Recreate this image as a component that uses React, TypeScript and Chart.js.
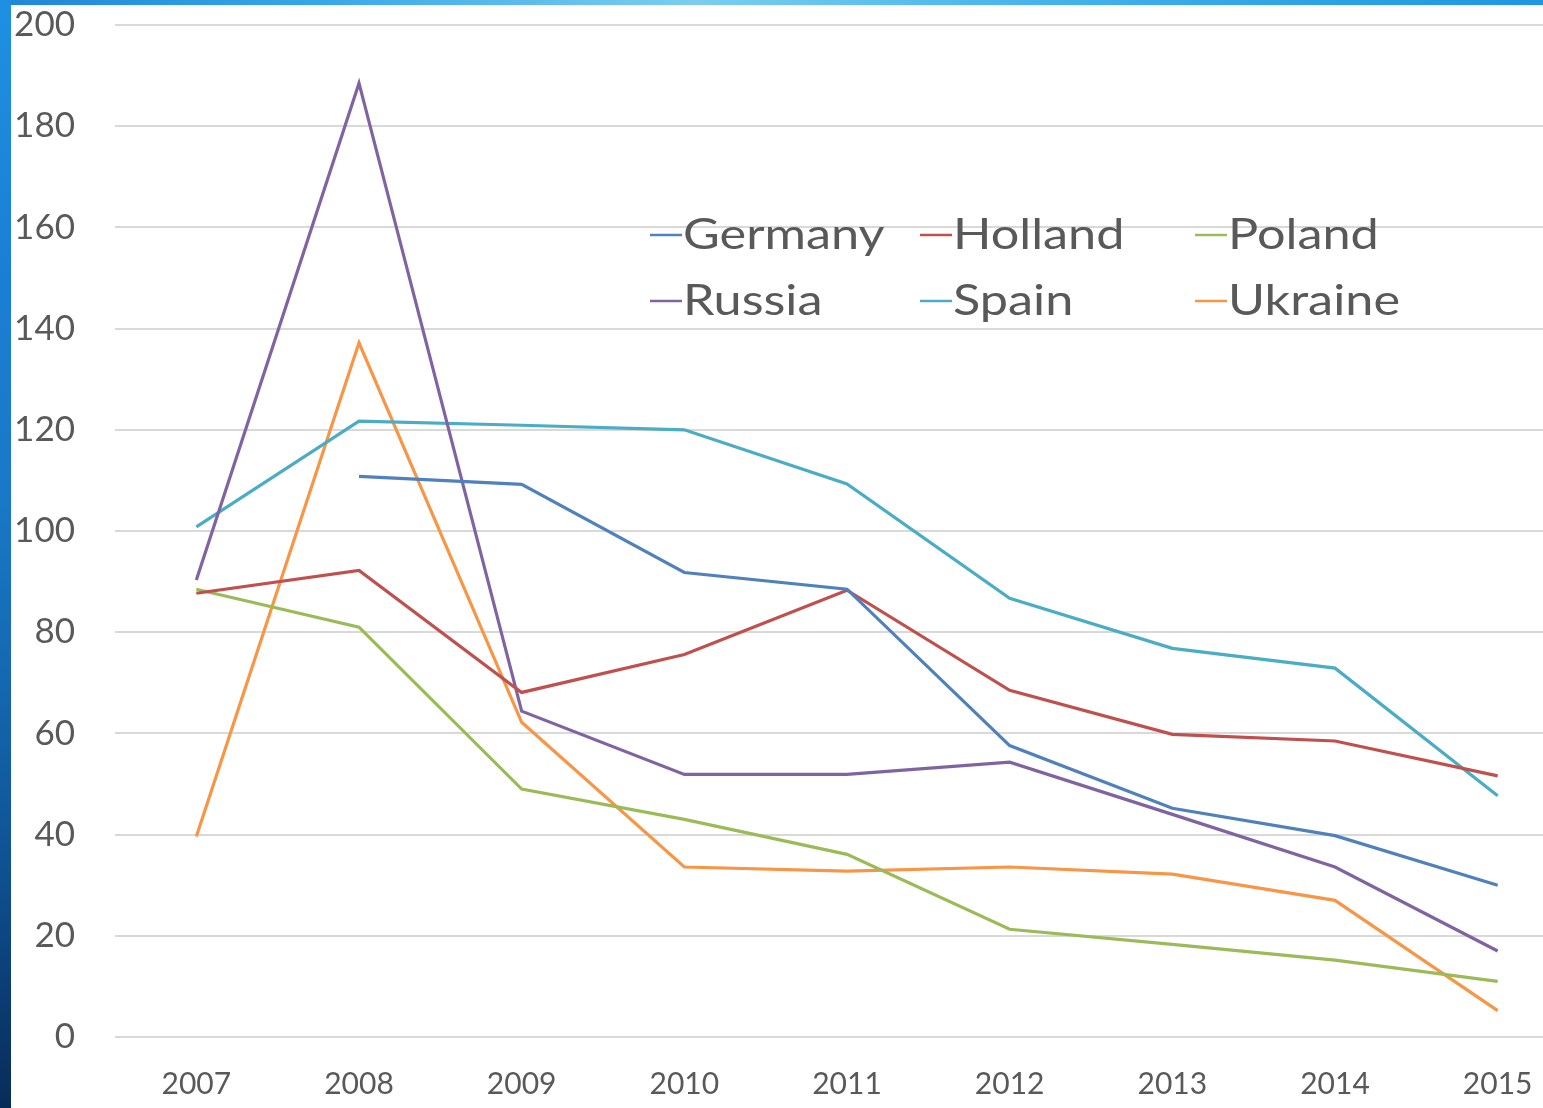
import React, { useEffect, useRef } from "react";
import { Chart, registerables } from "chart.js";

Chart.register(...registerables);

const YEARS = ["2007", "2008", "2009", "2010", "2011", "2012", "2013", "2014", "2015"];
const SERIES_NAMES = ["Germany", "Holland", "Poland", "Russia", "Spain", "Ukraine"];
const SERIES_COLORS = ["#4F81BD", "#C0504D", "#9BBB59", "#8064A2", "#4BACC6", "#F79646"];

const GERMANY = [null, 110.8, 109.2, 91.8, 88.5, 57.6, 45.2, 39.8, 30.0];
const HOLLAND = [87.7, 92.2, 68.1, 75.6, 88.3, 68.5, 59.8, 58.5, 51.6];
const POLAND = [88.5, 81.0, 49.0, 43.0, 36.1, 21.3, 18.3, 15.2, 11.0];
const RUSSIA = [90.3, 188.5, 64.4, 51.9, 51.9, 54.3, 44.0, 33.6, 17.0];
const SPAIN = [100.8, 121.7, 120.9, 120.0, 109.3, 86.7, 76.8, 72.9, 47.7];
const UKRAINE = [39.6, 137.2, 62.2, 33.6, 32.8, 33.6, 32.2, 27.0, 5.2];

const SERIES_VALUES = [GERMANY, HOLLAND, POLAND, RUSSIA, SPAIN, UKRAINE];

const Y_MIN = 0;
const Y_MAX = 200;
const Y_STEP = 20;

const TEXT_COLOR = "#595959";
const FONT_FAMILY = "Lato, 'Open Sans', sans-serif";

const legendPlugin = {
  id: "innerLegend",
  afterDraw(chart: any) {
    const ctx = chart.ctx;
    const colX = [650, 920, 1195];
    const rowY = [235, 301];
    ctx.save();
    chart.data.datasets.forEach((ds: any, i: number) => {
      const x = colX[i % 3];
      const y = rowY[Math.floor(i / 3)];
      ctx.strokeStyle = ds.borderColor;
      ctx.lineWidth = 2.5;
      ctx.beginPath();
      ctx.moveTo(x, y);
      ctx.lineTo(x + 32, y);
      ctx.stroke();
      ctx.fillStyle = TEXT_COLOR;
      ctx.font = `42px ${FONT_FAMILY}`;
      ctx.textBaseline = "alphabetic";
      ctx.textAlign = "left";
      ctx.save();
      ctx.translate(x + 33, y + 14);
      ctx.scale(1.2, 1);
      ctx.fillText(ds.label, 0, 0);
      ctx.restore();
    });
    ctx.restore();
  },
};

export default function App() {
  const canvasRef = useRef<HTMLCanvasElement | null>(null);

  useEffect(() => {
    if (!canvasRef.current) return;
    const chart = new Chart(canvasRef.current, {
      type: "line",
      data: {
        labels: YEARS,
        datasets: SERIES_NAMES.map((name, i) => ({
          label: name,
          data: SERIES_VALUES[i],
          borderColor: SERIES_COLORS[i],
          backgroundColor: SERIES_COLORS[i],
          borderWidth: 3.2,
          pointRadius: 0,
          tension: 0,
          spanGaps: false,
        })),
      },
      options: {
        animation: false,
        responsive: false,
        devicePixelRatio: 1,
        layout: { padding: { top: 25, bottom: 5, left: 0, right: 0 } },
        plugins: {
          legend: { display: false },
          tooltip: { enabled: false },
        },
        scales: {
          x: {
            offset: true,
            grid: { display: false },
            border: { display: false },
            ticks: {
              color: TEXT_COLOR,
              font: { family: FONT_FAMILY, size: 30 },
              padding: 21,
              maxRotation: 0,
            },
            afterFit(scale: any) {
              scale.height = 66;
              scale.paddingLeft = 0;
              scale.paddingRight = 0;
            },
          },
          y: {
            min: Y_MIN,
            max: Y_MAX,
            border: { display: false },
            grid: { color: "#D9D9D9", lineWidth: 2, drawTicks: false },
            ticks: {
              stepSize: Y_STEP,
              color: TEXT_COLOR,
              font: { family: FONT_FAMILY, size: 35 },
              padding: 40,
            },
            afterFit(scale: any) {
              scale.width = 115;
              scale.paddingTop = 0;
              scale.paddingBottom = 0;
            },
          },
        },
      },
      plugins: [legendPlugin],
    });
    return () => chart.destroy();
  }, []);

  return (
    <div
      style={{
        position: "fixed",
        left: 0,
        top: 0,
        width: 1543,
        height: 1108,
        overflow: "hidden",
        background: "#ffffff",
      }}
    >
      <div
        style={{
          position: "absolute",
          left: 0,
          top: 0,
          width: 1543,
          height: 5,
          background:
            "linear-gradient(to right, #1f86d6 0%, #35a6e8 20%, #7ccdf0 45%, #49b6ec 65%, #2ea2e6 85%, #1e96e0 100%)",
        }}
      />
      <div
        style={{
          position: "absolute",
          left: 0,
          top: 0,
          width: 11,
          height: 1108,
          background:
            "linear-gradient(to bottom, #1e90e2 0%, #1a7fd4 25%, #1a78c6 45%, #1467b0 62%, #0f5292 78%, #0b3c72 90%, #082c58 100%)",
        }}
      />
      <canvas
        ref={canvasRef}
        width={1579}
        height={1108}
        style={{ position: "absolute", left: 0, top: 0, width: 1579, height: 1108 }}
      />
    </div>
  );
}
